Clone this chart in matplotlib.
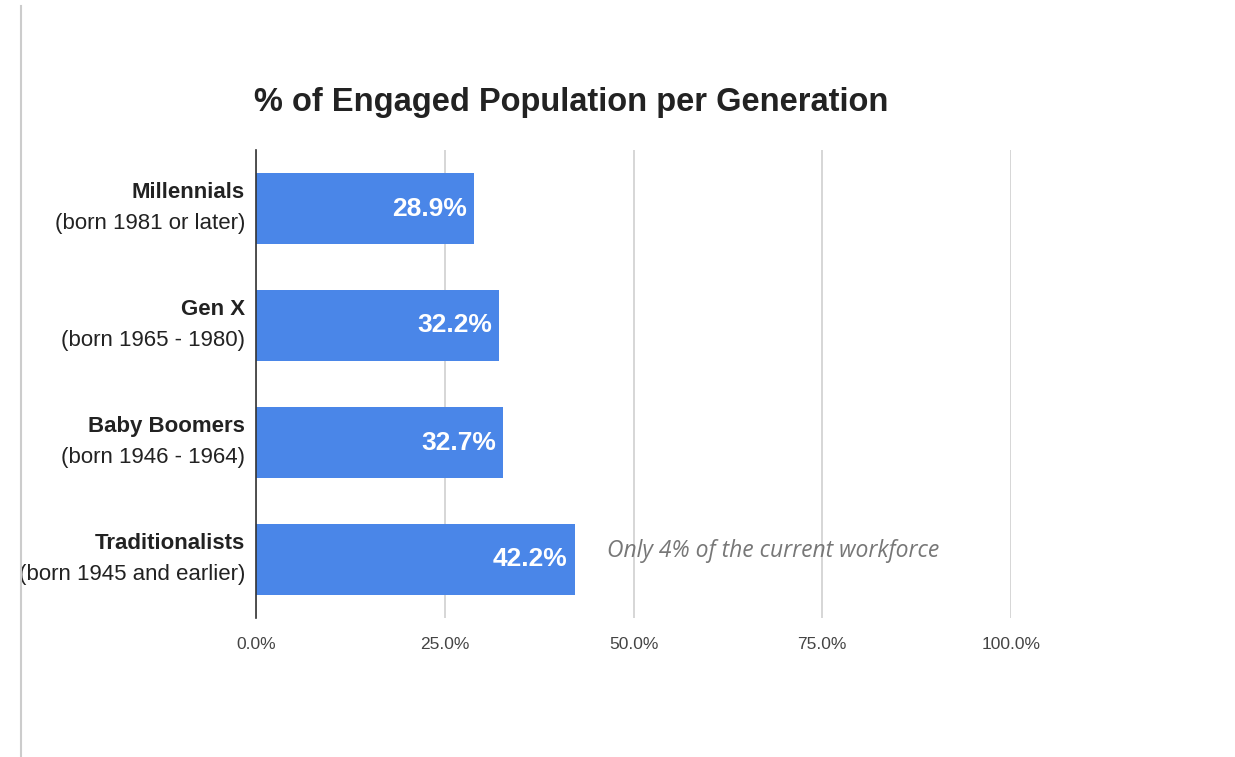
import matplotlib.pyplot as plt
from matplotlib.lines import Line2D

# Chart data
generations = ["Millennials", "Gen X", "Baby Boomers", "Traditionalists"]
born = ["(born 1981 or later)", "(born 1965 - 1980)", "(born 1946 - 1964)", "(born 1945 and earlier)"]
engaged = [28.9, 32.2, 32.7, 42.2]
ticks = [0, 25, 50, 75, 100]
note = "Only 4% of the current workforce"

plt.rcParams['font.family'] = ['Liberation Sans', 'DejaVu Sans']

fig = plt.figure(figsize=(12.35, 7.57), dpi=100)
ax = fig.add_axes([256 / 1235, 1 - 618 / 757, (1011 - 256) / 1235, (618 - 150) / 757])

ypos = list(range(len(generations)))
bars = ax.barh(ypos, engaged, height=0.61, color="#4a86e8", zorder=3)

ax.set_xlim(0, 100)
ax.set_ylim(len(generations) - 0.5, -0.5)

# value labels inside bars
for y, v in zip(ypos, engaged):
    ax.text(v - 0.9, y, f"{v:.1f}%", ha="right", va="center", color="white",
            fontsize=19, fontweight="bold", zorder=4)

# category labels: bold name over regular birth range
ax.set_yticks([])
for y, name, b in zip(ypos, generations, born):
    ax.annotate(name, xy=(0, y), xycoords=("axes fraction", "data"), xytext=(-8, 11.5),
                textcoords="offset points", ha="right", va="center",
                fontsize=16, fontweight="bold", color="#222222")
    ax.annotate(b, xy=(0, y), xycoords=("axes fraction", "data"), xytext=(-8, -11),
                textcoords="offset points", ha="right", va="center",
                fontsize=16, color="#222222")

ax.set_xticks(ticks)
ax.set_xticklabels([f"{t:.1f}%" for t in ticks], fontsize=12.5, color="#444444")
ax.tick_params(axis="x", length=0, pad=14)
ax.grid(axis="x", color="#d0d0d0", linewidth=1.2, zorder=0)

for s in ["top", "right", "bottom"]:
    ax.spines[s].set_visible(False)
ax.spines["left"].set_color("#333333")
ax.spines["left"].set_linewidth(1.2)
ax.spines["left"].set_zorder(5)

ax.text(46.5, 2.93, note, ha="left", va="center", fontsize=16.5, style="italic",
        color="#777777", family=["Open Sans", "DejaVu Sans"])

fig.text(571 / 1235, 1 - 102 / 757, "% of Engaged Population per Generation",
         ha="center", va="center", fontsize=23.5, fontweight="bold", color="#222222")

# page edge line on the left
fig.add_artist(Line2D([21 / 1235, 21 / 1235], [0, 1 - 6 / 757], transform=fig.transFigure,
                      color="#cccccc", linewidth=1.5))

fig.savefig("out.png", dpi=100, facecolor="white")
